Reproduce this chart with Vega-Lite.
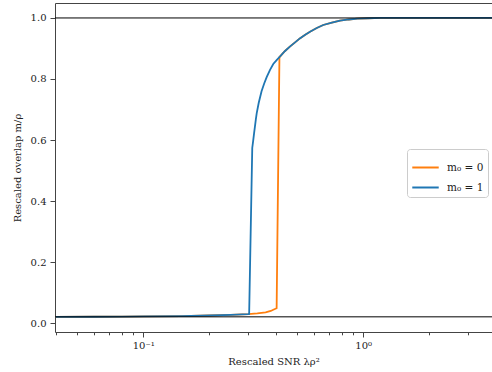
{
  "$schema": "https://vega.github.io/schema/vega-lite/v6.json",
  "width": 437,
  "height": 329,
  "autosize": {"type": "none"},
  "padding": {"left": 55, "top": 3, "right": 0, "bottom": 40},
  "config": {
    "view": {"stroke": null},
    "font": "DejaVu Serif",
    "axis": {"grid": false, "domainColor": "#444", "tickColor": "#444", "labelColor": "#222", "titleColor": "#222", "labelFont": "DejaVu Serif", "titleFont": "DejaVu Serif", "labelFontSize": 10, "titleFontSize": 10, "titleFontWeight": "normal", "domainWidth": 1}
  },
  "datasets": {
    "curves": [
      {"series": "m₀ = 0", "snr": 0.04, "overlap": 0.0205},
      {"series": "m₀ = 0", "snr": 0.06, "overlap": 0.021},
      {"series": "m₀ = 0", "snr": 0.08, "overlap": 0.0215},
      {"series": "m₀ = 0", "snr": 0.1, "overlap": 0.022},
      {"series": "m₀ = 0", "snr": 0.15, "overlap": 0.023},
      {"series": "m₀ = 0", "snr": 0.2, "overlap": 0.025},
      {"series": "m₀ = 0", "snr": 0.25, "overlap": 0.027},
      {"series": "m₀ = 0", "snr": 0.3, "overlap": 0.0295},
      {"series": "m₀ = 0", "snr": 0.33, "overlap": 0.032},
      {"series": "m₀ = 0", "snr": 0.36, "overlap": 0.035},
      {"series": "m₀ = 0", "snr": 0.38, "overlap": 0.04},
      {"series": "m₀ = 0", "snr": 0.39, "overlap": 0.044},
      {"series": "m₀ = 0", "snr": 0.404, "overlap": 0.049},
      {"series": "m₀ = 0", "snr": 0.416, "overlap": 0.872},
      {"series": "m₀ = 0", "snr": 0.418, "overlap": 0.873},
      {"series": "m₀ = 0", "snr": 0.44, "overlap": 0.891},
      {"series": "m₀ = 0", "snr": 0.464, "overlap": 0.906},
      {"series": "m₀ = 0", "snr": 0.49, "overlap": 0.92},
      {"series": "m₀ = 0", "snr": 0.515, "overlap": 0.933},
      {"series": "m₀ = 0", "snr": 0.545, "overlap": 0.945},
      {"series": "m₀ = 0", "snr": 0.573, "overlap": 0.955},
      {"series": "m₀ = 0", "snr": 0.615, "overlap": 0.967},
      {"series": "m₀ = 0", "snr": 0.658, "overlap": 0.977},
      {"series": "m₀ = 0", "snr": 0.72, "overlap": 0.985},
      {"series": "m₀ = 0", "snr": 0.784, "overlap": 0.991},
      {"series": "m₀ = 0", "snr": 0.86, "overlap": 0.995},
      {"series": "m₀ = 0", "snr": 0.94, "overlap": 0.998},
      {"series": "m₀ = 0", "snr": 1.05, "overlap": 0.999},
      {"series": "m₀ = 0", "snr": 1.2, "overlap": 1.0},
      {"series": "m₀ = 0", "snr": 2.0, "overlap": 1.0},
      {"series": "m₀ = 0", "snr": 3.85, "overlap": 1.0},
      {"series": "m₀ = 1", "snr": 0.04, "overlap": 0.0205},
      {"series": "m₀ = 1", "snr": 0.06, "overlap": 0.021},
      {"series": "m₀ = 1", "snr": 0.08, "overlap": 0.0215},
      {"series": "m₀ = 1", "snr": 0.1, "overlap": 0.022},
      {"series": "m₀ = 1", "snr": 0.15, "overlap": 0.023},
      {"series": "m₀ = 1", "snr": 0.2, "overlap": 0.025},
      {"series": "m₀ = 1", "snr": 0.25, "overlap": 0.027},
      {"series": "m₀ = 1", "snr": 0.3, "overlap": 0.0295},
      {"series": "m₀ = 1", "snr": 0.303, "overlap": 0.03},
      {"series": "m₀ = 1", "snr": 0.313, "overlap": 0.574},
      {"series": "m₀ = 1", "snr": 0.316, "overlap": 0.597},
      {"series": "m₀ = 1", "snr": 0.319, "overlap": 0.622},
      {"series": "m₀ = 1", "snr": 0.322, "overlap": 0.645},
      {"series": "m₀ = 1", "snr": 0.325, "overlap": 0.668},
      {"series": "m₀ = 1", "snr": 0.328, "overlap": 0.688},
      {"series": "m₀ = 1", "snr": 0.335, "overlap": 0.722},
      {"series": "m₀ = 1", "snr": 0.345, "overlap": 0.76},
      {"series": "m₀ = 1", "snr": 0.355, "overlap": 0.786},
      {"series": "m₀ = 1", "snr": 0.364, "overlap": 0.806},
      {"series": "m₀ = 1", "snr": 0.377, "overlap": 0.83},
      {"series": "m₀ = 1", "snr": 0.39, "overlap": 0.849},
      {"series": "m₀ = 1", "snr": 0.404, "overlap": 0.862},
      {"series": "m₀ = 1", "snr": 0.418, "overlap": 0.873},
      {"series": "m₀ = 1", "snr": 0.44, "overlap": 0.891},
      {"series": "m₀ = 1", "snr": 0.464, "overlap": 0.906},
      {"series": "m₀ = 1", "snr": 0.49, "overlap": 0.92},
      {"series": "m₀ = 1", "snr": 0.515, "overlap": 0.933},
      {"series": "m₀ = 1", "snr": 0.545, "overlap": 0.945},
      {"series": "m₀ = 1", "snr": 0.573, "overlap": 0.955},
      {"series": "m₀ = 1", "snr": 0.615, "overlap": 0.967},
      {"series": "m₀ = 1", "snr": 0.658, "overlap": 0.977},
      {"series": "m₀ = 1", "snr": 0.72, "overlap": 0.985},
      {"series": "m₀ = 1", "snr": 0.784, "overlap": 0.991},
      {"series": "m₀ = 1", "snr": 0.86, "overlap": 0.995},
      {"series": "m₀ = 1", "snr": 0.94, "overlap": 0.998},
      {"series": "m₀ = 1", "snr": 1.05, "overlap": 0.999},
      {"series": "m₀ = 1", "snr": 1.2, "overlap": 1.0},
      {"series": "m₀ = 1", "snr": 2.0, "overlap": 1.0},
      {"series": "m₀ = 1", "snr": 3.85, "overlap": 1.0}
    ],
    "levels": [
      {"level": 1.0},
      {"level": 0.0207}
    ]
  },
  "layer": [
    {
      "data": {"name": "curves"},
      "mark": {"type": "line", "strokeWidth": 1.8},
      "encoding": {
        "x": {
          "field": "snr", "type": "quantitative",
          "scale": {"type": "log", "domain": [0.0397, 3.85], "nice": false},
          "axis": {
            "title": "Rescaled SNR λρ²",
            "values": [0.04, 0.05, 0.06, 0.07, 0.08, 0.09, 0.1, 0.2, 0.3, 0.4, 0.5, 0.6, 0.7, 0.8, 0.9, 1, 2, 3],
            "labelExpr": "datum.value == 0.1 ? '10⁻¹' : (datum.value == 1 ? '10⁰' : '')",
            "labelOverlap": false,
            "labelFlush": false,
            "labelPadding": 3,
            "tickSize": {"condition": {"test": "datum.value == 0.1 || datum.value == 1", "value": 5}, "value": 2.8},
            "titlePadding": 6
          }
        },
        "y": {
          "field": "overlap", "type": "quantitative",
          "scale": {"domain": [-0.029, 1.049], "nice": false, "zero": false},
          "axis": {
            "title": "Rescaled overlap m/ρ",
            "values": [0, 0.2, 0.4, 0.6, 0.8, 1.0],
            "format": ".1f",
            "tickSize": 5,
            "labelPadding": 4,
            "titlePadding": 8
          }
        },
        "color": {
          "field": "series", "type": "nominal",
          "scale": {"domain": ["m₀ = 0", "m₀ = 1"], "range": ["#ff7f0e", "#1f77b4"]},
          "legend": {
            "title": null,
            "orient": "none",
            "legendX": 352,
            "legendY": 146,
            "symbolType": "stroke",
            "symbolSize": 700,
            "symbolStrokeWidth": 2,
            "labelFont": "DejaVu Serif",
            "labelFontSize": 10.5,
            "labelColor": "#222",
            "labelOffset": 7,
            "strokeColor": "#cccccc",
            "fillColor": "white",
            "padding": 4,
            "cornerRadius": 3,
            "rowPadding": -5,
            "symbolOffset": 0
          }
        }
      }
    },
    {
      "data": {"name": "levels"},
      "mark": {"type": "rule", "color": "black", "strokeWidth": 1},
      "encoding": {
        "y": {"field": "level", "type": "quantitative"}
      }
    },
    {
      "data": {"name": "curves"},
      "mark": {"type": "point", "opacity": 0},
      "encoding": {
        "x": {
          "field": "snr", "type": "quantitative",
          "scale": {"type": "log", "domain": [0.0397, 3.85], "nice": false},
          "axis": {"orient": "top", "labels": false, "ticks": false, "title": null, "domain": true}
        },
        "y": {"field": "overlap", "type": "quantitative"}
      }
    }
  ],
  "resolve": {"axis": {"x": "independent"}}
}
